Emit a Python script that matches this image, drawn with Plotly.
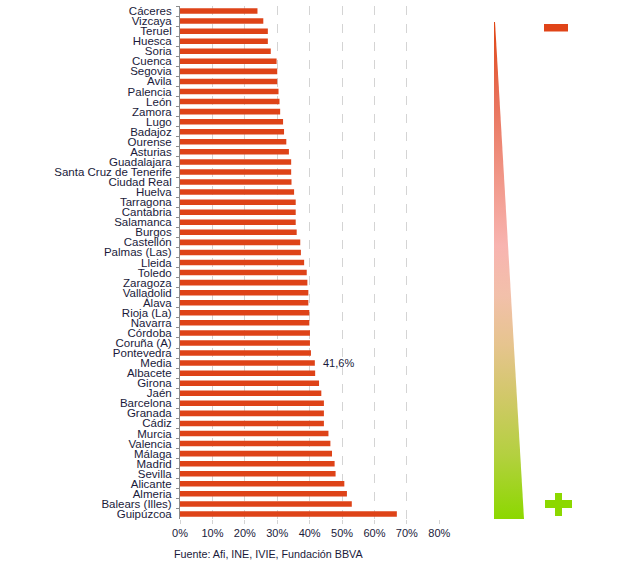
import plotly.graph_objects as go

# Provinces, top to bottom, and their share (%)
provincias = [
    "Cáceres", "Vizcaya", "Teruel", "Huesca", "Soria", "Cuenca", "Segovia",
    "Avila", "Palencia", "León", "Zamora", "Lugo", "Badajoz", "Ourense",
    "Asturias", "Guadalajara", "Santa Cruz de Tenerife", "Ciudad Real",
    "Huelva", "Tarragona", "Cantabria", "Salamanca", "Burgos", "Castellón",
    "Palmas (Las)", "Lleida", "Toledo", "Zaragoza", "Valladolid", "Álava",
    "Rioja (La)", "Navarra", "Córdoba", "Coruña (A)", "Pontevedra", "Media",
    "Albacete", "Girona", "Jaén", "Barcelona", "Granada", "Cádiz", "Murcia",
    "Valencia", "Málaga", "Madrid", "Sevilla", "Alicante", "Almeria",
    "Balears (Illes)", "Guipúzcoa",
]
valores = [
    23.9, 25.7, 27.1, 27.1, 28.0, 29.8, 30.0,
    30.0, 30.4, 30.7, 30.9, 31.8, 32.1, 32.8,
    33.6, 34.3, 34.3, 34.4,
    35.2, 35.7, 35.7, 35.7, 36.0, 37.1,
    37.3, 38.3, 39.1, 39.3, 39.6, 39.6,
    39.9, 39.9, 40.1, 40.1, 40.4, 41.6,
    41.7, 42.9, 43.6, 44.4, 44.4, 44.4, 45.8,
    46.4, 46.9, 47.7, 48.0, 50.7, 51.5,
    53.0, 66.9,
]
media_label = "Media"
x_ticks = [0, 10, 20, 30, 40, 50, 60, 70, 80]
x_ticktext = [f"{v}%" for v in x_ticks]
fuente = "Fuente: Afi, INE, IVIE, Fundación BBVA"

W, H = 630, 563
BAR = "#DE4318"
TXT = "#1a1a3a"
FONT = "Liberation Sans, Arial, sans-serif"


def up(y):
    """Convert a top-down pixel row to the bottom-up overlay axis."""
    return H - y


fig = go.Figure()

fig.add_trace(go.Bar(
    x=valores, y=provincias, orientation="h",
    marker=dict(color=BAR, line=dict(width=0)),
    xaxis="x", yaxis="y", hoverinfo="x+y", showlegend=False,
))

# Colour-scale wedge on the right (pixel coordinate overlay, y measured upward)
wedge_x = [494, 495, 524, 494, 494]
wedge_y = [up(22), up(22), up(519), up(519), up(22)]
fig.add_trace(go.Scatter(
    x=wedge_x, y=wedge_y, mode="lines", line=dict(width=0),
    fill="toself",
    fillgradient=dict(
        type="vertical",
        colorscale=[
            [0.0, "#8CD800"], [0.13, "#B4D040"], [0.25, "#D2C86A"],
            [0.35, "#E6C48E"], [0.45, "#F2C0AA"], [0.55, "#F8B4B0"],
            [0.7, "#F09484"], [0.85, "#E87058"], [1.0, "#E04412"],
        ],
    ),
    xaxis="x2", yaxis="y2", hoverinfo="skip", showlegend=False,
))

val_media = valores[provincias.index(media_label)]

fig.update_layout(
    width=W, height=H,
    autosize=False,
    margin=dict(l=0, r=0, t=0, b=0, pad=0, autoexpand=False),
    paper_bgcolor="white", plot_bgcolor="rgba(0,0,0,0)",
    font=dict(family=FONT, size=11, color=TXT),
    bargap=0.45,
    xaxis=dict(
        domain=[180 / W, 439.3 / W], range=[0, 80],
        tickmode="array", tickvals=x_ticks, ticktext=x_ticktext,
        showgrid=True, gridcolor="#d4d4d4", griddash="dash", gridwidth=1,
        ticks="outside", ticklen=4, tickcolor="#d4d4d4",
        showline=False, zeroline=False, anchor="y", automargin=False,
        tickfont=dict(size=11, color=TXT),
    ),
    yaxis=dict(
        domain=[(H - 519) / H, (H - 6) / H],
        autorange="reversed", type="category",
        tickmode="linear", tick0=0, dtick=1,
        showline=True, linecolor="#8c8c8c", linewidth=1,
        ticks="outside", ticklen=3, tickcolor="#8c8c8c", tickson="boundaries",
        ticklabelstandoff=5,
        showgrid=False, anchor="x", automargin=False,
        tickfont=dict(size=11.5, color=TXT),
    ),
    xaxis2=dict(domain=[0, 1], range=[0, W], visible=False,
                anchor="y2", fixedrange=True, automargin=False),
    yaxis2=dict(domain=[0, 1], range=[0, H], visible=False,
                anchor="x2", fixedrange=True, automargin=False),
    shapes=[
        # minus sign
        dict(type="rect", xref="x2", yref="y2", x0=544, x1=568,
             y0=up(31.5), y1=up(24), fillcolor="#E04418", line=dict(width=0)),
        # plus sign
        dict(type="rect", xref="x2", yref="y2", x0=545, x1=572,
             y0=up(508), y1=up(500), fillcolor="#8CD800", line=dict(width=0)),
        dict(type="rect", xref="x2", yref="y2", x0=555, x1=562,
             y0=up(516), y1=up(493), fillcolor="#8CD800", line=dict(width=0)),
    ],
    annotations=[
        dict(x=val_media, y=media_label, xref="x", yref="y",
             text=f"{val_media:.1f}%".replace(".", ","),
             showarrow=False, xanchor="left", xshift=6,
             font=dict(size=11, color=TXT)),
        dict(x=172 / W, y=1 - 554 / H, xref="paper", yref="paper",
             text=fuente, showarrow=False, xanchor="left", yanchor="middle",
             font=dict(size=10.75, color=TXT)),
    ],
)

fig.write_html("out.html", config={"responsive": False})
